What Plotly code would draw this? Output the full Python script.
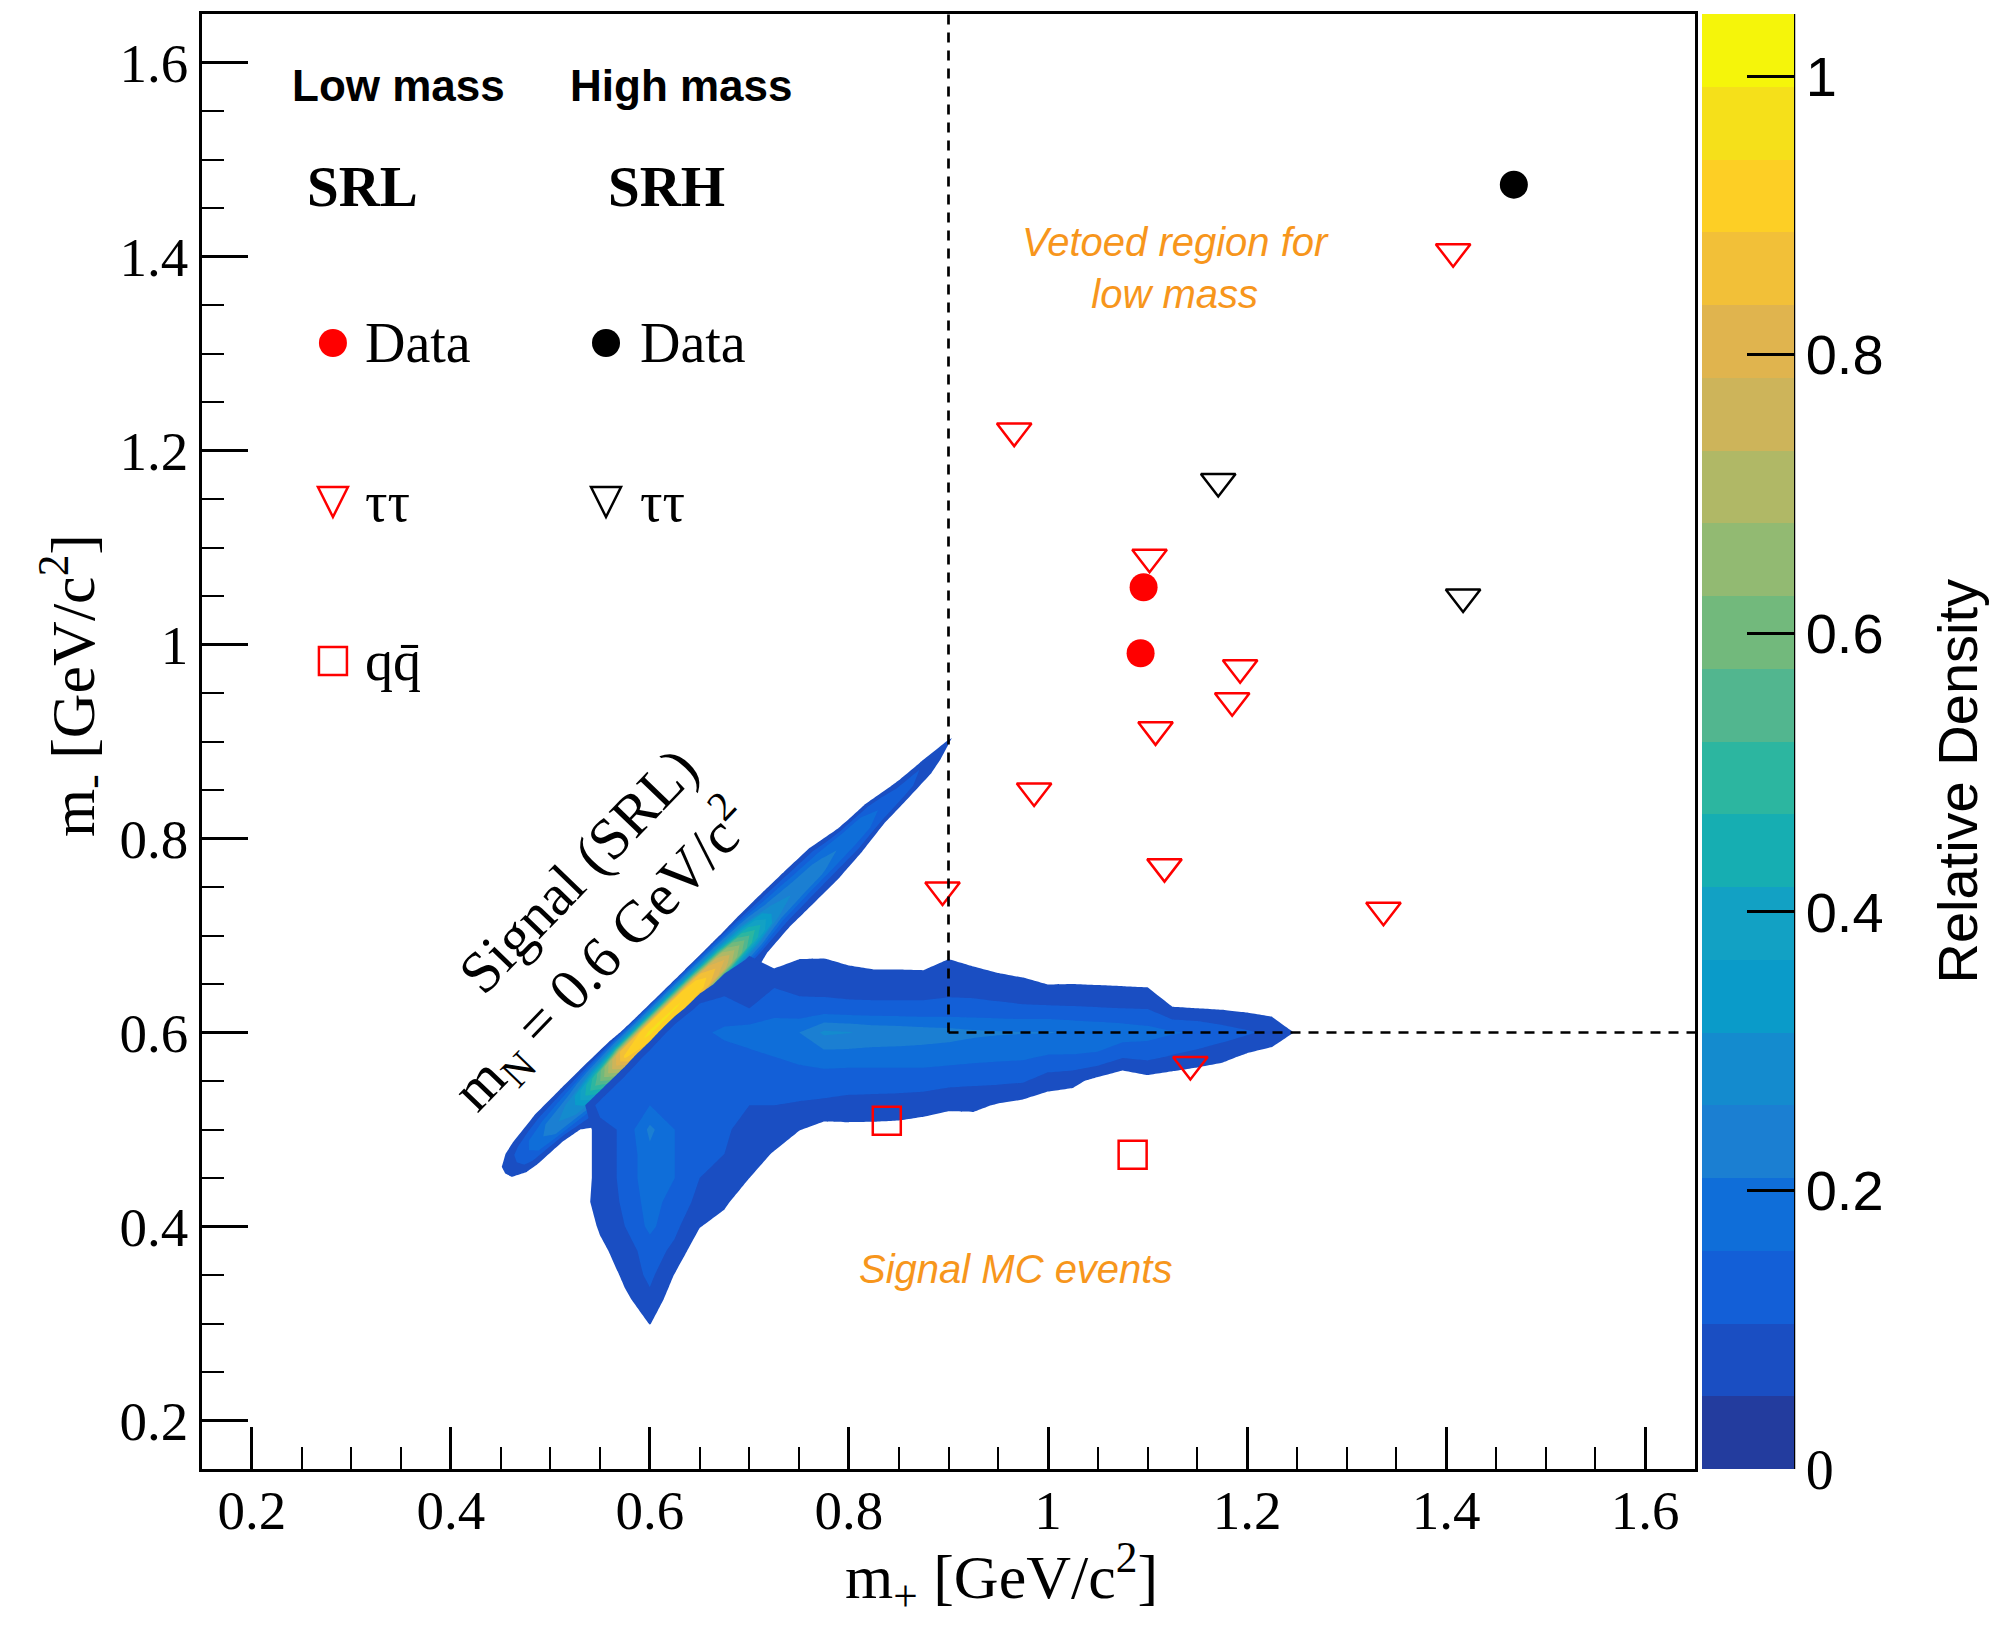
import plotly.graph_objects as go

# ------------------------------------------------------------------
# Selected events in the (m+, m-) plane, GeV/c^2
# ------------------------------------------------------------------
# Low-mass signal region (SRL)
srl_data_mplus = [1.096, 1.093]
srl_data_mminus = [1.059, 0.991]
srl_tautau_mplus = [1.407, 0.966, 1.102, 1.193, 1.185, 1.108, 0.986, 1.117, 0.894, 1.337, 1.143]
srl_tautau_mminus = [1.405, 1.220, 1.090, 0.976, 0.942, 0.912, 0.849, 0.771, 0.747, 0.726, 0.567]
srl_qq_mplus = [0.838, 1.085]
srl_qq_mminus = [0.509, 0.474]
# High-mass signal region (SRH)
srh_data_mplus = [1.468]
srh_data_mminus = [1.474]
srh_tautau_mplus = [1.171, 1.417]
srh_tautau_mminus = [1.168, 1.049]

# boundaries of the region vetoed for the low-mass search
VETO_MPLUS = 0.9
VETO_MMINUS = 0.6

AXIS_RANGE = [0.15, 1.65]
AXIS_TICKS = [0.2, 0.4, 0.6, 0.8, 1.0, 1.2, 1.4, 1.6]

# ------------------------------------------------------------------
# Signal MC density (m_N = 0.6 GeV/c^2), relative to the peak.
# Tables are in half colour-level units (one colour band = 2 units).
# ------------------------------------------------------------------
N_LEVELS = 20
DENSITY_MAX = 1.0447
LEVEL = DENSITY_MAX / N_LEVELS

level_colors = ["#233C9E", "#1A4EC2", "#135FD7", "#0F6ED9", "#1B7FD2",
                "#148BCE", "#0A9BC9", "#12A1C4", "#16AEB2", "#2CB6A0",
                "#52B68F", "#72B97C", "#92BA72", "#B0B866", "#CDB45A",
                "#E0B44E", "#F2C038", "#FDCF25", "#F5E01A", "#F5F50A"]
colorbar_ticks = [0, 0.2, 0.4, 0.6, 0.8, 1.0]
colorbar_ticktext = ["<span style='font-family:Liberation Serif'>0</span>",
                     "0.2", "0.4", "0.6", "0.8", "1"]

# Broad component (horizontal lobe + lower wing) on a regular grid.
lobe_mplus = [round(0.525 + 0.025 * i, 3) for i in range(31)]
lobe_mminus_top_down = [round(0.7 - 0.025 * j, 3) for j in range(18)]
lobe_rows = [
    # m- = 0.700
    [0] * 31,
    # 0.675
    [0, 0, 0, 0, 0, 0, 0, 2.4, 1.0, 2.05, 2.1, 1.6, 1.2, 1.2, 1.1, 2.05, 1.5, 0.8, 0.6, 0.5, 0.4, 0.3, 0, 0, 0, 0, 0, 0, 0, 0, 0],
    # 0.650
    [0, 0, 0, 0, 0, 0, 3.5, 3.0, 3.8, 3.5, 3.3, 3.3, 3.2, 3.2, 3.2, 3.4, 3.3, 3.0, 2.5, 1.95, 2.0, 1.9, 1.8, 1.7, 0.5, 0.3, 0, 0, 0, 0, 0],
    # 0.625
    [0, 0, 0, 0, 0, 5.0, 4.5, 4.0, 5.0, 4.5, 4.6, 4.4, 4.4, 4.4, 4.4, 4.5, 4.5, 4.4, 4.3, 4.3, 4.2, 4.1, 4.0, 3.9, 2.1, 2.0, 1.8, 1.5, 1.2, 0, 0],
    # 0.600
    [0, 0, 0, 0, 6.0, 5.5, 6.5, 7.0, 7.5, 8.0, 10.4, 10.1, 9.5, 9.3, 9.0, 8.8, 8.4, 8.2, 8.1, 8.1, 7.8, 7.5, 7.2, 6.8, 6.2, 5.8, 5.0, 4.3, 3.5, 1.8, 0],
    # 0.575
    [0, 0, 0, 5.5, 5.0, 5.0, 5.0, 5.5, 6.0, 6.5, 7.0, 7.0, 7.0, 7.0, 7.0, 6.8, 6.6, 6.4, 6.3, 5.8, 5.8, 5.6, 4.2, 4.5, 3.8, 3.2, 2.6, 1.6, 1.0, 0, 0],
    # 0.550
    [0, 0, 5.0, 5.0, 5.0, 4.5, 4.5, 4.5, 5.0, 5.0, 5.0, 4.8, 4.8, 4.8, 4.8, 4.6, 4.4, 4.4, 4.2, 3.0, 2.6, 1.3, 0.3, 1.2, 0.8, 0.5, 0.2, 0, 0, 0, 0],
    # 0.525
    [0, 5.0, 5.0, 6.0, 5.0, 4.5, 4.5, 4.0, 4.0, 3.8, 3.6, 3.4, 3.3, 3.2, 3.0, 2.4, 2.5, 1.8, 1.3, 0.7, 0.5, 0, 0, 0, 0, 0, 0, 0, 0, 0, 0],
    # 0.500
    [0, 3.0, 4.5, 8.5, 6.0, 4.5, 4.2, 3.5, 3.4, 2.1, 1.2, 1.4, 1.4, 1.3, 0.9, 0.8, 0.7, 0, 0, 0, 0, 0, 0, 0, 0, 0, 0, 0, 0, 0, 0],
    # 0.475
    [0, 3.0, 4.5, 7.5, 6.0, 4.5, 4.0, 3.2, 1.8, 0, 0, 0, 0, 0, 0, 0, 0, 0, 0, 0, 0, 0, 0, 0, 0, 0, 0, 0, 0, 0, 0],
    # 0.450
    [0, 3.0, 4.5, 7.5, 6.0, 4.0, 3.2, 2.0, 0, 0, 0, 0, 0, 0, 0, 0, 0, 0, 0, 0, 0, 0, 0, 0, 0, 0, 0, 0, 0, 0, 0],
    # 0.425
    [0, 3.3, 4.2, 7.0, 5.0, 3.5, 2.5, 0, 0, 0, 0, 0, 0, 0, 0, 0, 0, 0, 0, 0, 0, 0, 0, 0, 0, 0, 0, 0, 0, 0, 0],
    # 0.400
    [0, 2.3, 4.0, 6.5, 4.5, 2.1, 0.8, 0, 0, 0, 0, 0, 0, 0, 0, 0, 0, 0, 0, 0, 0, 0, 0, 0, 0, 0, 0, 0, 0, 0, 0],
    # 0.375
    [0, 1.5, 3.0, 5.0, 3.5, 0.5, 0, 0, 0, 0, 0, 0, 0, 0, 0, 0, 0, 0, 0, 0, 0, 0, 0, 0, 0, 0, 0, 0, 0, 0, 0],
    # 0.350
    [0, 0, 2.6, 4.5, 1.9, 0, 0, 0, 0, 0, 0, 0, 0, 0, 0, 0, 0, 0, 0, 0, 0, 0, 0, 0, 0, 0, 0, 0, 0, 0, 0],
    # 0.325
    [0, 0, 1.5, 3.5, 0.8, 0, 0, 0, 0, 0, 0, 0, 0, 0, 0, 0, 0, 0, 0, 0, 0, 0, 0, 0, 0, 0, 0, 0, 0, 0, 0],
    # 0.300
    [0, 0, 0, 2.1, 0, 0, 0, 0, 0, 0, 0, 0, 0, 0, 0, 0, 0, 0, 0, 0, 0, 0, 0, 0, 0, 0, 0, 0, 0, 0, 0],
    # 0.275
    [0] * 31,
]

# Narrow diagonal band: sampled along the band (s = (m+ + m-)/2)
# and across it (t = m- - m+).
band_s = [round(0.425 + 0.025 * i, 3) for i in range(21)]
band_t_top_down = [0.05, 0.04, 0.03, 0.02, 0.01, 0.0, -0.01, -0.02, -0.03, -0.04, -0.05]
band_rows = [
    [0] * 21,
    [0] * 21,
    [0, 0, 0.8, 2.2, 2.4, 2.5, 2.4, 1.5, 1.5, 1.5, 1.8, 2.2, 2.3, 2.2, 2.0, 0, 0, 0, 0, 0, 0],
    [0, 0.5, 3.0, 5.0, 6.5, 10, 13, 13, 13, 12.5, 11, 9.0, 6.5, 5.5, 5.0, 2.3, 1.7, 0.5, 0, 0, 0],
    [0, 1.0, 5.0, 8.0, 10.5, 19, 32, 34.5, 34.5, 33.5, 27, 17, 10, 8.5, 7.8, 6.8, 5.6, 2.2, 1.2, 0.8, 0],
    [0, 1.2, 5.5, 9.0, 12, 22, 34.5, 36.5, 36.2, 35.5, 30, 20, 11, 9.5, 8.5, 7.5, 6.2, 5.0, 3.8, 2.3, 0],
    [0, 1.0, 5.0, 8.0, 10.5, 19, 32, 34.5, 34.5, 33.5, 27, 17, 10, 8.5, 7.8, 6.8, 5.6, 4.5, 3.2, 0.8, 0],
    [0, 0.5, 2.8, 3.4, 6.0, 10, 13, 13, 13, 12.5, 11, 9.0, 5.0, 4.5, 4.2, 4.0, 2.0, 1.4, 1.0, 0, 0],
    [0, 0, 0, 0.5, 3.0, 5.5, 6.0, 6.0, 6.0, 5.5, 4.5, 3.0, 2.3, 2.3, 2.2, 1.0, 0, 0, 0, 0, 0],
    [0, 0, 0, 0, 2.3, 4.8, 5.2, 5.2, 5.0, 4.8, 3.6, 1.2, 0, 0, 0, 0, 0, 0, 0, 0, 0],
    [0, 0, 0, 0, 2.8, 4.5, 5.0, 5.0, 5.0, 4.8, 3.5, 1.0, 0, 0, 0, 0, 0, 0, 0, 0, 0],
]

# ------------------------------------------------------------------
# Build density arrays (ascending axes, converted to relative density)
# ------------------------------------------------------------------
lobe_mminus = lobe_mminus_top_down[::-1]
lobe_z = [[v * LEVEL / 2 for v in row] for row in lobe_rows[::-1]]

band_t = band_t_top_down[::-1]
band_z = [[v * LEVEL / 2 for v in row] for row in band_rows[::-1]]
band_x = [[s - t / 2 for s in band_s] for t in band_t]
band_y = [[s + t / 2 for s in band_s] for t in band_t]

# contour fill colours: lowest region left empty, then one colour per level
fill_scale = [[0.0, "rgba(255,255,255,0)"]]
for k in range(1, N_LEVELS):
    fill_scale.append([k / (N_LEVELS - 1), level_colors[k]])

# stepped scale for the colour bar
bar_scale = []
for k, c in enumerate(level_colors):
    bar_scale.append([k / N_LEVELS, c])
    bar_scale.append([(k + 1) / N_LEVELS, c])

contour_levels = dict(start=LEVEL, end=(N_LEVELS - 1) * LEVEL, size=LEVEL,
                      coloring="fill", showlines=False)

SERIF = "Liberation Serif"
SANS = "Liberation Sans"
RED = "#FF0000"
ORANGE = "#F7961C"

fig = go.Figure()

fig.add_trace(go.Contour(
    x=lobe_mplus, y=lobe_mminus, z=lobe_z,
    autocontour=False, contours=contour_levels,
    colorscale=fill_scale, showscale=False,
    line=dict(width=0, smoothing=0), hoverinfo="skip", showlegend=False,
))

hidden_carpet_axis = dict(showgrid=False, showline=False, showticklabels="none",
                          startline=False, endline=False, minorgridcount=0,
                          gridwidth=0, linewidth=0, smoothing=0,
                          tickmode="array", tickvals=[])
fig.add_trace(go.Carpet(
    carpet="band", a=band_s, b=band_t, x=band_x, y=band_y,
    aaxis=hidden_carpet_axis, baxis=hidden_carpet_axis,
))
fig.add_trace(go.Contourcarpet(
    carpet="band", a=band_s, b=band_t, z=band_z,
    autocontour=False, contours=contour_levels,
    colorscale=fill_scale, showscale=False,
    line=dict(width=0, smoothing=0), showlegend=False,
))

# colour bar for the signal density
fig.add_trace(go.Scatter(
    x=[None], y=[None], mode="markers", hoverinfo="skip", showlegend=False,
    marker=dict(color=[0], cmin=0, cmax=DENSITY_MAX, colorscale=bar_scale,
                showscale=True,
                colorbar=dict(
                    x=1.0047, xanchor="left", xpad=0, y=0.5, yanchor="middle",
                    ypad=0, len=1, lenmode="fraction", thickness=92,
                    thicknessmode="pixels", outlinewidth=0,
                    tickmode="array", tickvals=colorbar_ticks,
                    ticktext=colorbar_ticktext, ticks="inside", ticklen=47,
                    tickwidth=2.5, tickcolor="black",
                    tickfont=dict(family=SANS, size=56, color="black"),
                )),
))

open_tri = dict(symbol="triangle-down-open", size=30, line=dict(width=2.5))
fig.add_trace(go.Scatter(x=srl_tautau_mplus, y=srl_tautau_mminus, mode="markers",
                         marker=dict(color=RED, **open_tri), showlegend=False))
fig.add_trace(go.Scatter(x=srh_tautau_mplus, y=srh_tautau_mminus, mode="markers",
                         marker=dict(color="black", **open_tri), showlegend=False))
fig.add_trace(go.Scatter(x=srl_qq_mplus, y=srl_qq_mminus, mode="markers",
                         marker=dict(color=RED, symbol="square-open", size=28,
                                     line=dict(width=2.5)), showlegend=False))
fig.add_trace(go.Scatter(x=srl_data_mplus, y=srl_data_mminus, mode="markers",
                         marker=dict(color=RED, symbol="circle", size=28), showlegend=False))
fig.add_trace(go.Scatter(x=srh_data_mplus, y=srh_data_mminus, mode="markers",
                         marker=dict(color="black", symbol="circle", size=28), showlegend=False))

# veto boundaries
dash = dict(color="black", width=2.7, dash="10px,8px")
shapes = [
    dict(type="line", xref="x", yref="y", x0=VETO_MPLUS, x1=VETO_MPLUS,
         y0=VETO_MMINUS, y1=AXIS_RANGE[1], line=dash),
    dict(type="line", xref="x", yref="y", x0=VETO_MPLUS, x1=AXIS_RANGE[1],
         y0=VETO_MMINUS, y1=VETO_MMINUS, line=dash),
    # colour-bar axis line
    dict(type="line", xref="paper", yref="paper", x0=1.0663, x1=1.0663, y0=0, y1=1,
         line=dict(color="black", width=2.5)),
]


# legend keys (pixel-sized, placed in plot-fraction coordinates)
def key_circle(px, py, color):
    return dict(type="circle", xref="paper", yref="paper", xsizemode="pixel",
                ysizemode="pixel", xanchor=px, yanchor=py, x0=-14, x1=14,
                y0=-14, y1=14, fillcolor=color, line=dict(width=0))


def key_triangle(px, py, color):
    return dict(type="path", xref="paper", yref="paper", xsizemode="pixel",
                ysizemode="pixel", xanchor=px, yanchor=py,
                path="M-15,15 L15,15 L0,-15 Z", line=dict(color=color, width=2.5))


def key_square(px, py, color):
    return dict(type="rect", xref="paper", yref="paper", xsizemode="pixel",
                ysizemode="pixel", xanchor=px, yanchor=py, x0=-14, x1=14,
                y0=-14, y1=14, line=dict(color=color, width=2.5))


COL_LOW, COL_HIGH = 0.0877, 0.2706
ROW_DATA, ROW_TAU, ROW_QQ = 0.7739, 0.6646, 0.5553
shapes += [
    key_circle(COL_LOW, ROW_DATA, RED), key_circle(COL_HIGH, ROW_DATA, "black"),
    key_triangle(COL_LOW, ROW_TAU, RED), key_triangle(COL_HIGH, ROW_TAU, "black"),
    key_square(COL_LOW, ROW_QQ, RED),
]

TEXT_LOW, TEXT_HIGH = 0.1078, 0.2920


def label(text, x, y, size, family=SERIF, color="black", xanchor="left", **kw):
    return dict(text=text, x=x, y=y, xref="paper", yref="paper", showarrow=False,
                xanchor=xanchor, yanchor="middle",
                font=dict(family=family, size=size, color=color), **kw)


annotations = [
    label("<b>Low mass</b>", 0.1319, 0.9512, 44, family=SANS, xanchor="center"),
    label("<b>High mass</b>", 0.3215, 0.9512, 44, family=SANS, xanchor="center"),
    label("<b>SRL</b>", 0.1078, 0.8811, 57, xanchor="center"),
    label("<b>SRH</b>", 0.3108, 0.8811, 57, xanchor="center"),
    label("Data", TEXT_LOW, ROW_DATA, 56),
    label("Data", TEXT_HIGH, ROW_DATA, 56),
    label("\u03c4\u03c4", TEXT_LOW, ROW_TAU, 56),
    label("\u03c4\u03c4", TEXT_HIGH, ROW_TAU, 56),
    label("qq\u0304", TEXT_LOW, ROW_QQ, 56),
    # axis titles
    label("m<sub>+</sub> [GeV/c<sup>2</sup>]", 0.5356, -0.074, 62, xanchor="center"),
    label("m<sub>-</sub> [GeV/c<sup>2</sup>]", -0.0871, 0.5388, 62, xanchor="center",
          textangle=-90),
    label("Relative Density", 1.176, 0.473, 56, family=SANS, xanchor="center",
          textangle=-90),
    # in-plot notes
    dict(text="Signal (SRL)<br>m<sub>N</sub> = 0.6 GeV/c<sup>2</sup>", x=0.528, y=0.704,
         xref="x", yref="y", showarrow=False, textangle=-46, align="right",
         xanchor="center", yanchor="middle", font=dict(family=SERIF, size=59, color="black")),
    dict(text="<i>Vetoed region for<br>low mass</i>", x=1.128, y=1.388, xref="x", yref="y",
         showarrow=False, align="center", xanchor="center", yanchor="middle",
         font=dict(family=SANS, size=40, color=ORANGE)),
    dict(text="<i>Signal MC events</i>", x=0.967, y=0.356, xref="x", yref="y",
         showarrow=False, xanchor="center", yanchor="middle",
         font=dict(family=SANS, size=40, color=ORANGE)),
]

axis_common = dict(
    range=AXIS_RANGE, tickmode="array", tickvals=AXIS_TICKS,
    ticks="inside", tickwidth=2.5, tickcolor="black",
    minor=dict(dtick=0.05, tick0=0, ticks="inside", ticklen=22, tickwidth=2,
               tickcolor="black", showgrid=False),
    showline=True, linewidth=2.7, linecolor="black", mirror=True,
    showgrid=False, zeroline=False,
    tickfont=dict(family=SERIF, size=55, color="black"),
)

fig.update_layout(
    width=1992, height=1625,
    margin=dict(l=202, r=297, t=14, b=156),
    paper_bgcolor="white", plot_bgcolor="white",
    font=dict(family=SERIF, color="black"),
    showlegend=False,
    xaxis=dict(ticklen=42, ticklabelstandoff=-9, **axis_common),
    yaxis=dict(ticklen=46, **axis_common),
    shapes=shapes,
    annotations=annotations,
)

fig.write_html("out.html")
